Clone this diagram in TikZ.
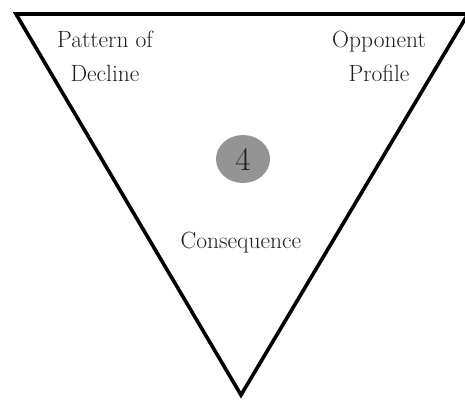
\documentclass[tikz,border=0pt]{standalone}
\usepackage{fontspec}
\usetikzlibrary{shapes.geometric}
\begin{document}
\begin{tikzpicture}[x=1pt,y=-1pt,
  frame/.style={draw=black,line width=3.6pt,line join=miter},
  corner/.style={font=\fontsize{23.5}{34}\selectfont,text=black!88,align=center,inner sep=0pt},
  badge/.style={ellipse,fill=black!42,minimum width=54pt,minimum height=48pt,inner sep=0pt,
                font=\fontsize{33}{33}\selectfont,text=black!88}]
  \useasboundingbox (0,0) rectangle (465,401);
  % inverted triangle
  \coordinate (tl) at (16,14);
  \coordinate (tr) at (468,14);
  \coordinate (bt) at (241,395);
  \draw[frame] (tl) -- (tr) -- (bt) -- cycle;
  % labels
  \node[corner] (decline) at (105,56) {Pattern of\\Decline};
  \node[corner] (profile) at (379,56) {Opponent\\Profile};
  \node[badge] (four) at (243,159) {4};
  \node[corner] (conseq) at (241,243) {Consequence};
\end{tikzpicture}
\end{document}
